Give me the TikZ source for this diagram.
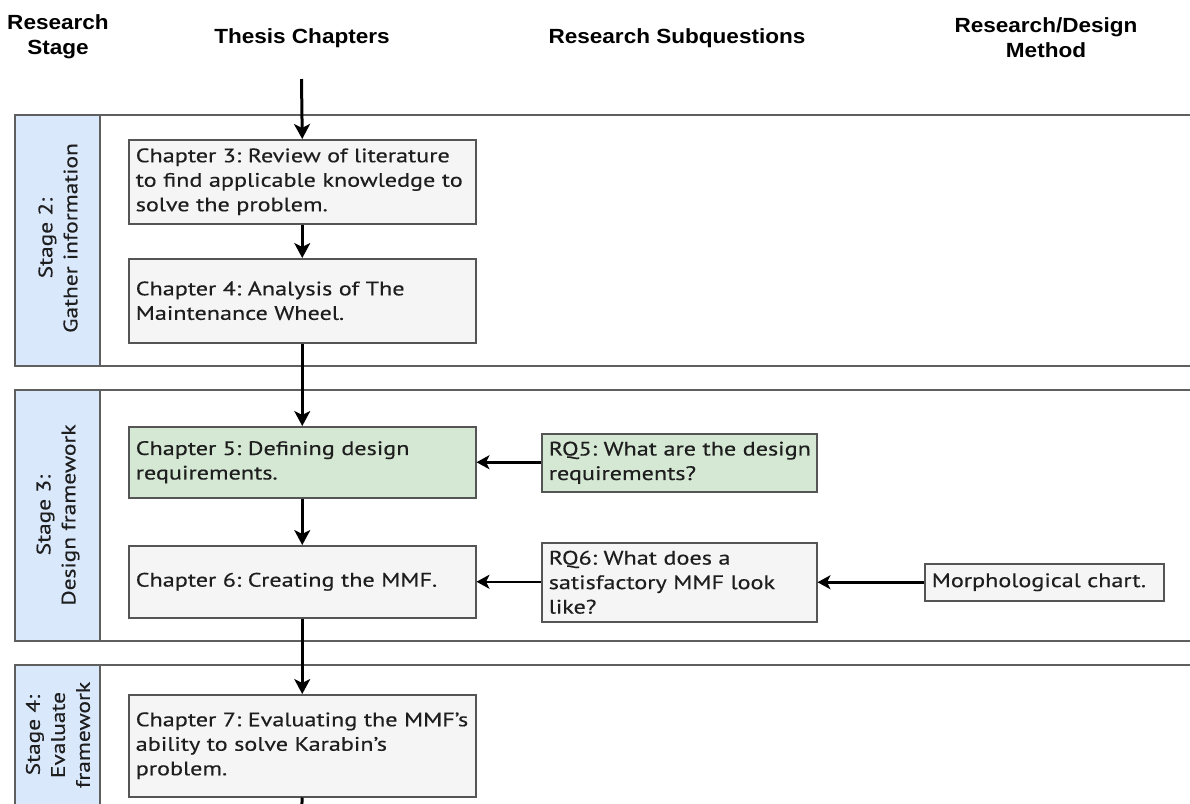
\documentclass[tikz,border=0pt]{standalone}
\usepackage{fontspec}
\setmainfont[FakeStretch=1.24,FakeBold=0.4]{PT Sans}
\newfontfamily\stagefont[FakeStretch=1.2,FakeBold=0.4]{PT Sans}
\newfontfamily\headfont[FakeStretch=1.1]{Liberation Sans}
\usetikzlibrary{arrows.meta}

\definecolor{stagefill}{HTML}{DAE8FC}
\definecolor{lanefill}{HTML}{FFFFFF}
\definecolor{lanedraw}{HTML}{5F5F5F}
\definecolor{boxfill}{HTML}{F5F5F5}
\definecolor{boxgreen}{HTML}{D5E8D4}
\definecolor{boxdraw}{HTML}{555555}
\definecolor{boxtext}{HTML}{1E1E1E}

\tikzset{
  header/.style={font=\headfont\bfseries\fontsize{20.5}{25}\selectfont, align=center, inner sep=0pt},
  stagelabel/.style={rotate=90, align=center, font=\stagefont\fontsize{19.5}{25}\selectfont, text=boxtext, inner sep=0pt},
  lanebox/.style={draw=lanedraw, line width=1.5pt, fill=lanefill},
  stagecol/.style={draw=lanedraw, line width=1.5pt, fill=stagefill},
  chapter/.style={draw=boxdraw, line width=1.5pt, fill=boxfill, anchor=north west,
    align=left, inner xsep=7pt, inner ysep=0pt, text=boxtext,
    font=\fontsize{19.5}{24.5}\selectfont},
  greenbox/.style={chapter, fill=boxgreen},
  flow/.style={line width=3pt, -{Stealth[length=15pt,width=16pt,inset=4pt]}},
  feed/.style={line width=2.5pt, -{Stealth[length=13pt,width=14pt,inset=3.5pt]}},
}

\begin{document}
\frenchspacing
\hyphenpenalty=10000
\begin{tikzpicture}[x=1pt,y=-1pt]
\useasboundingbox (0,0) rectangle (1190,803);

% column headers
\node[header] (hstage) at (58,37) {Research\\Stage};
\node[header] (hchap) at (302,38) {Thesis Chapters};
\node[header] (hsub) at (677,38) {Research Subquestions};
\node[header] (hmeth) at (1046,38) {Research/Design\\Method};

% swimlanes
\draw[lanebox] (15,115) rectangle (1200,366);
\draw[stagecol] (15,115) rectangle (100,366);
\node[stagelabel] (s2) at (58,238) {Stage 2:\\Gather information};

\draw[lanebox] (15,390) rectangle (1200,641);
\draw[stagecol] (15,390) rectangle (100,641);
\node[stagelabel] (s3) at (58,515) {Stage 3:\\Design framework};

\draw[lanebox] (15,665) rectangle (1200,806);
\draw[stagecol] (15,665) rectangle (100,806);
\node[stagelabel] (s4) at (58,735) {Stage 4:\\Evaluate\\framework};

% chapter boxes (box width = text width + 2 x 7pt)
\node[chapter, text width=333pt, minimum height=84pt] (c3) at (128,139)
  {Chapter 3: Review of literature\\to find applicable knowledge to\\solve the problem.};
\node[chapter, text width=333pt, minimum height=84pt] (c4) at (128,258)
  {Chapter 4: Analysis of The\\Maintenance Wheel.};
\node[greenbox, text width=333pt, minimum height=71pt] (c5) at (128,426)
  {Chapter 5: Defining design\\requirements.};
\node[chapter, text width=333pt, minimum height=72pt] (c6) at (128,545)
  {Chapter 6: Creating the MMF.};
\node[chapter, text width=333pt, minimum height=102pt] (c7) at (128,694)
  {Chapter 7: Evaluating the MMF's\\ability to solve Karabin's\\problem.};

% subquestions and method
\node[greenbox, text width=261pt, minimum height=58pt] (rq5) at (541,433)
  {\mbox{RQ5: What are the design}\\requirements?};
\node[chapter, text width=261pt, minimum height=79pt] (rq6) at (541,542)
  {RQ6: What does a\\satisfactory MMF look\\like?};
\node[chapter, text width=225pt, minimum height=37pt] (morph) at (924,563)
  {Morphological chart.};

% flow through the chapters
\coordinate (start) at (301.5,79);
\coordinate (onward) at (301.5,812);
\draw[flow] (start) -- (c3.north);
\draw[flow] (c3) -- (c4);
\draw[flow] (c4) -- (c5);
\draw[flow] (c5) -- (c6);
\draw[flow] (c6) -- (c7);
\draw[line width=3pt] (c7.south) -- (onward);

% questions feeding the chapters
\draw[feed] (rq5.west |- c5.east) -- (c5.east);
\draw[feed] (rq6.west |- c6.east) -- (c6.east);
\draw[feed] (morph) -- (rq6.east |- morph.west);
\end{tikzpicture}
\end{document}
